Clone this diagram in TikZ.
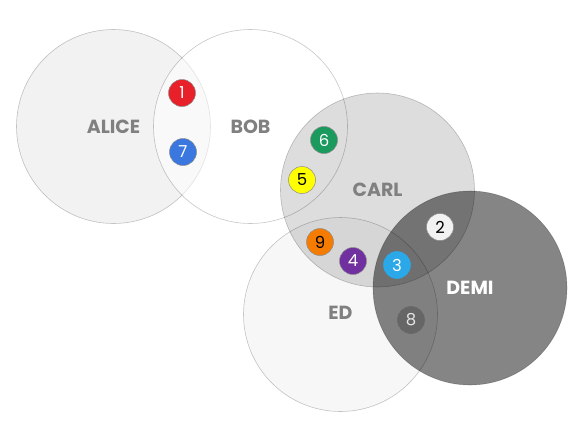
\documentclass[tikz,border=0pt]{standalone}
\usepackage{fontspec}
\setmainfont{Poppins}
\definecolor{labgrey}{HTML}{808080}
\definecolor{cred}{HTML}{E8202A}
\definecolor{cblue}{HTML}{3A78E0}
\definecolor{cgreen}{HTML}{1A9A5C}
\definecolor{cyellow}{HTML}{FFFF00}
\definecolor{cwhite}{HTML}{F2F2F2}
\definecolor{corange}{HTML}{F57C00}
\definecolor{cpurple}{HTML}{7030A0}
\definecolor{clblue}{HTML}{2AA8E8}
\definecolor{cgrey}{HTML}{666666}
\tikzset{
  setc/.style={circle, minimum size=194pt, inner sep=0pt, outer sep=0pt,
    draw=black, draw opacity=0.22, line width=0.6pt},
  setlab/.style={font=\fontsize{19}{19}\selectfont\bfseries, text=labgrey},
  dot/.style={circle, minimum size=27pt, inner sep=0pt, draw=black!45, line width=0.5pt,
    font=\fontsize{16.5}{16.5}\selectfont},
}
\begin{document}
\begin{tikzpicture}[x=1pt,y=-1pt]
\useasboundingbox (0,0) rectangle (584,424);
\fill[white] (0,0) rectangle (584,424);
% set circles
\node[setc, fill=black, fill opacity=0.05] (alice) at (113.5,126.5) {};
\node[setc, fill=white, fill opacity=0.55] (bob) at (250.5,126.5) {};
\node[setc, fill=black, fill opacity=0.03] (ed) at (340.5,314.5) {};
\node[setc, fill=black, fill opacity=0.135] (carl) at (377.5,190) {};
\node[setc, fill=black, fill opacity=0.48] (demi) at (470,288) {};
% set labels
\node[setlab] (alicel) at (alice.center) {ALICE};
\node[setlab] (bobl) at (bob.center) {BOB};
\node[setlab] (carll) at (carl.center) {CARL};
\node[setlab] (edl) at ([yshift=1.5pt]ed.center) {ED};
\node[setlab, text=white] (demil) at (demi.center) {DEMI};
% numbered dots
\node[dot, fill=cred, text=white] (n1) at (182,93) {1};
\node[dot, fill=cwhite, text=black] (n2) at (440,227) {2};
\node[dot, fill=clblue, text=white, draw=clblue] (n3) at (397,265) {3};
\node[dot, fill=cpurple, text=white] (n4) at (353,261) {4};
\node[dot, fill=cyellow, text=black] (n5) at (302,180) {5};
\node[dot, fill=cgreen, text=white] (n6) at (324,140) {6};
\node[dot, fill=cblue, text=white] (n7) at (183,152) {7};
\node[dot, fill=cgrey, text=black!10, draw=cgrey] (n8) at (411,320) {8};
\node[dot, fill=corange, text=black] (n9) at (320,242) {9};
\end{tikzpicture}
\end{document}
